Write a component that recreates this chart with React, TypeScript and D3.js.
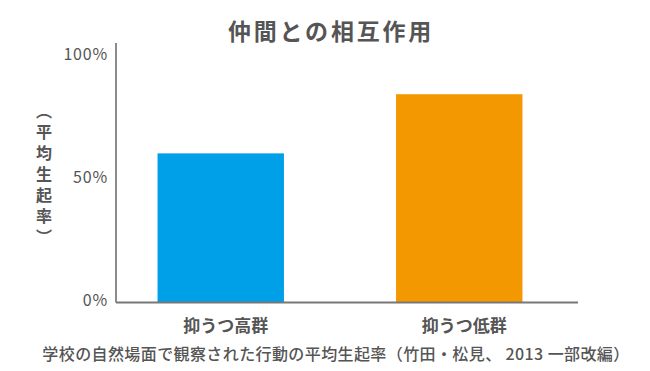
import React from "react";
import * as d3 from "d3";

const title = "仲間との相互作用";
const categories = ["抑うつ高群", "抑うつ低群"];
const values = [60.5, 84.5];
const colors = ["#00a0e9", "#f39800"];
const yTicks = [0, 50, 100];
const yTickLabels = ["0%", "50%", "100%"];
const yLabel = "（平均生起率）";
const caption = "学校の自然場面で観察された行動の平均生起率（竹田・松見、 2013 一部改編）";

const W = 650;
const H = 371;
const FONT = "'Noto Sans CJK JP', 'Noto Sans', sans-serif";
const TEXT = "#555";

export default function App() {
  const x = d3
    .scaleBand<string>()
    .domain(categories)
    .range([117, 563])
    .paddingInner(0.47)
    .paddingOuter(0.17);
  const y = d3.scaleLinear().domain([0, 100]).range([302.5, 56]);
  const axisX0 = 116;
  const axisX1 = 578;
  const axisTop = 43;

  return (
    <svg
      width={W}
      height={H}
      style={{ position: "absolute", left: 0, top: 0, background: "#fff" }}
      fontFamily={FONT}
    >
      <text
        x={331}
        y={30}
        textAnchor="middle"
        dominantBaseline="central"
        fontSize={23}
        fontWeight="bold"
        letterSpacing={2.8}
        fill={TEXT}
      >
        {title}
      </text>

      {categories.map((c, i) => (
        <rect
          key={c}
          x={x(c)}
          y={y(values[i])}
          width={x.bandwidth()}
          height={y(0) - y(values[i])}
          fill={colors[i]}
        />
      ))}

      <line x1={axisX0} x2={axisX0} y1={axisTop} y2={y(0)} stroke="#666" strokeWidth={1.5} />
      <line x1={axisX0} x2={axisX1} y1={y(0)} y2={y(0)} stroke="#777" strokeWidth={2} />

      {yTicks.map((t, i) => (
        <text
          key={t}
          x={108}
          y={y(t) - 3.5}
          textAnchor="end"
          dominantBaseline="central"
          fontSize={16}
          letterSpacing={0.8}
          fill={TEXT}
        >
          {yTickLabels[i]}
        </text>
      ))}

      <text
        x={44}
        y={103}
        fontSize={16}
        fontWeight="bold"
        letterSpacing={5}
        fill={TEXT}
        style={{ writingMode: "vertical-rl" }}
      >
        {yLabel}
      </text>

      {categories.map((c) => (
        <text
          key={c}
          x={(x(c) ?? 0) + x.bandwidth() / 2 + 5}
          y={324}
          textAnchor="middle"
          dominantBaseline="central"
          fontSize={17}
          fontWeight="bold"
          fill={TEXT}
        >
          {c}
        </text>
      ))}

      <text
        x={336}
        y={353}
        textAnchor="middle"
        dominantBaseline="central"
        fontSize={16}
        fontWeight={500}
        letterSpacing={0.4}
        fill={TEXT}
      >
        {caption}
      </text>
    </svg>
  );
}
